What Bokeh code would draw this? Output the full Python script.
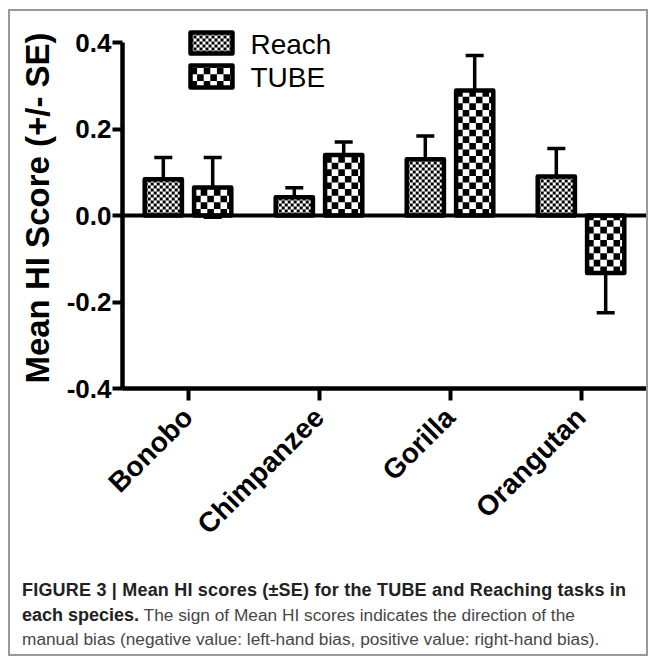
import math
from bokeh.plotting import figure
from bokeh.layouts import column
from bokeh.models import (ColumnDataSource, FactorRange, Whisker, TeeHead, Span, Label, Div,
                          FixedTicker, NumeralTickFormatter)
from bokeh.transform import dodge
from bokeh.embed import file_html
from bokeh.resources import INLINE

# ---------------- data ----------------
species = ["Bonobo", "Chimpanzee", "Gorilla", "Orangutan"]
series_names = ["Reach", "TUBE"]
reach_mean = [0.084, 0.042, 0.130, 0.090]
reach_se = [0.050, 0.022, 0.054, 0.065]
tube_mean = [0.065, 0.140, 0.289, -0.133]
tube_se = [0.069, 0.030, 0.081, 0.092]
y_ticks = [-0.4, -0.2, 0.0, 0.2, 0.4]
y_title = "Mean HI Score (+/- SE)"
caption_line1 = "FIGURE 3 | Mean HI scores (\u00b1SE) for the TUBE and Reaching tasks in"
caption_line2_bold = "each species."
caption_line2_rest = "The sign of Mean HI scores indicates the direction of the"
caption_line3 = "manual bias (negative value: left-hand bias, positive value: right-hand bias)."

# ---------------- layout constants ----------------
FONT = "Liberation Sans"
W = 636
H_CHART, H_CAPTION = 560, 83
MB_LEFT, MB_TOP = 112, 16
PAGE_X0, PAGE_Y0 = 10, 11                 # canvas origin on the page (margin + border)
FRAME_TOP = PAGE_Y0 + MB_TOP              # page px of frame top
FRAME_BOTTOM = 388                        # page px of y = -0.4
PX_Y = 432.5                              # px per y unit
Y_TOP = -0.4 + (FRAME_BOTTOM - FRAME_TOP) / PX_Y
MB_BOTTOM = H_CHART - MB_TOP - (FRAME_BOTTOM - FRAME_TOP)
FRAME_LEFT = PAGE_X0 + MB_LEFT
PX_X = (W - MB_LEFT) / len(species)       # px per category unit
OFF = 0.1885
BAR_W = 0.284
CELL_REACH, CELL_TUBE = 3.0, 6.6          # checker cell size, px


def dx(px):
    return (px - FRAME_LEFT) / PX_X


def dy(py):
    return Y_TOP - (py - FRAME_TOP) / PX_Y


def checker(boxes, cell_px):
    cx, cy = cell_px / PX_X, cell_px / PX_Y
    L, R, B, T = [], [], [], []
    for x0, x1, y0, y1 in boxes:
        nx = math.ceil((x1 - x0) / cx - 1e-9)
        ny = math.ceil((y1 - y0) / cy - 1e-9)
        for i in range(nx):
            for j in range(ny):
                if (i + j) % 2 == 0:
                    L.append(x0 + i * cx)
                    R.append(min(x0 + (i + 1) * cx, x1))
                    B.append(y0 + j * cy)
                    T.append(min(y0 + (j + 1) * cy, y1))
    return dict(left=L, right=R, bottom=B, top=T)


def bar_boxes(means, offset):
    out = []
    for k, m in enumerate(means):
        xc = k + 0.5 + offset
        y0, y1 = sorted((0.0, m))
        out.append((xc - BAR_W / 2, xc + BAR_W / 2, y0, y1))
    return out


def make_source(mean, se):
    return ColumnDataSource(dict(
        species=species,
        mean=mean,
        upper=[m + s for m, s in zip(mean, se)],
        lower=[m - s for m, s in zip(mean, se)],
    ))


src_reach = make_source(reach_mean, reach_se)
src_tube = make_source(tube_mean, tube_se)

p = figure(x_range=FactorRange(factors=species, range_padding=0),
           y_range=(-0.4, Y_TOP),
           width=W, height=H_CHART, output_backend="svg", toolbar_location=None,
           min_border_left=MB_LEFT, min_border_right=0, min_border_top=MB_TOP,
           min_border_bottom=MB_BOTTOM)
p.xgrid.visible = False
p.ygrid.visible = False
p.outline_line_color = None
p.background_fill_color = "white"
p.border_fill_color = "white"

# bars: white base, checker cells, black outline
for src, o, means, cell in ((src_reach, -OFF, reach_mean, CELL_REACH),
                            (src_tube, OFF, tube_mean, CELL_TUBE)):
    p.vbar(x=dodge("species", o, range=p.x_range), top="mean", bottom=0, width=BAR_W,
           source=src, fill_color="white", line_color=None)
    p.quad(source=ColumnDataSource(checker(bar_boxes(means, o), cell)),
           left="left", right="right", bottom="bottom", top="top",
           fill_color="black", line_color=None)
    p.vbar(x=dodge("species", o, range=p.x_range), top="mean", bottom=0, width=BAR_W,
           source=src, fill_color=None, line_color="black", line_width=4.5, line_join="round")
    p.add_layout(Whisker(base=dodge("species", o, range=p.x_range), upper="upper", lower="lower",
                         source=src, line_color="black", line_width=3.5,
                         upper_head=TeeHead(size=18, line_width=3.5, line_color="black"),
                         lower_head=TeeHead(size=18, line_width=3.5, line_color="black")))

p.add_layout(Span(location=0, dimension="width", line_color="black", line_width=4))

# legend (swatches with the same checker fills)
legend_rows = [(series_names[0], CELL_REACH, 32, 53), (series_names[1], CELL_TUBE, 65, 87)]
for name, cell, top_px, bot_px in legend_rows:
    box = (dx(190), dx(232), dy(bot_px), dy(top_px))
    p.quad(left=[box[0]], right=[box[1]], bottom=[box[2]], top=[box[3]],
           fill_color="white", line_color=None)
    p.quad(source=ColumnDataSource(checker([box], cell)),
           left="left", right="right", bottom="bottom", top="top",
           fill_color="black", line_color=None)
    p.quad(left=[box[0]], right=[box[1]], bottom=[box[2]], top=[box[3]],
           fill_color=None, line_color="black", line_width=4.5, line_join="round")
    p.add_layout(Label(x=dx(250), y=dy((top_px + bot_px) / 2 + 1), text=name, text_font=FONT,
                       text_font_size="28px", text_color="black",
                       text_baseline="middle"))

# y axis
yax = p.yaxis[0]
yax.ticker = FixedTicker(ticks=y_ticks)
yax.formatter = NumeralTickFormatter(format="0.0")
yax.bounds = (-0.4, 0.4)
yax.axis_line_width = 4.5
yax.axis_line_color = "black"
yax.major_tick_line_width = 4
yax.major_tick_out = 10
yax.major_tick_in = 0
yax.minor_tick_line_color = None
yax.major_label_text_font = FONT
yax.major_label_text_font_size = "26px"
yax.major_label_text_font_style = "bold"
yax.major_label_text_color = "black"
yax.major_label_standoff = 1
yax.axis_label = y_title
yax.axis_label_text_font = FONT
yax.axis_label_text_font_size = "33px"
yax.axis_label_text_font_style = "bold"
yax.axis_label_text_color = "black"
yax.axis_label_standoff = 8

# x axis
xax = p.xaxis[0]
xax.axis_line_width = 4.5
xax.axis_line_color = "black"
xax.major_tick_line_width = 4
xax.major_tick_out = 12
xax.major_tick_in = 0
xax.minor_tick_line_color = None
xax.major_label_orientation = math.pi / 4
xax.major_label_text_font = FONT
xax.major_label_text_font_size = "28px"
xax.major_label_text_font_style = "bold"
xax.major_label_text_color = "black"
xax.major_label_standoff = 12

# ---------------- caption ----------------
caption_html = (
    f"<div style=\"font-family:'{FONT}';font-size:17.3px;line-height:24.5px;color:#474747;"
    "white-space:nowrap;padding:7px 0 0 12px;\">"
    f"<b style='color:#222222;font-size:18px;letter-spacing:0.2px'>{caption_line1}</b><br>"
    f"<b style='color:#222222;font-size:18px'>{caption_line2_bold}</b> {caption_line2_rest}<br>"
    f"{caption_line3}</div>"
)
cap = Div(text=caption_html, width=W, height=H_CAPTION, margin=0)

page = column(p, cap, spacing=0,
              styles={"margin": "9px 0px 0px 8px", "border": "2px solid #9a9a9a"})

open("out.html", "w").write(file_html(page, INLINE))
